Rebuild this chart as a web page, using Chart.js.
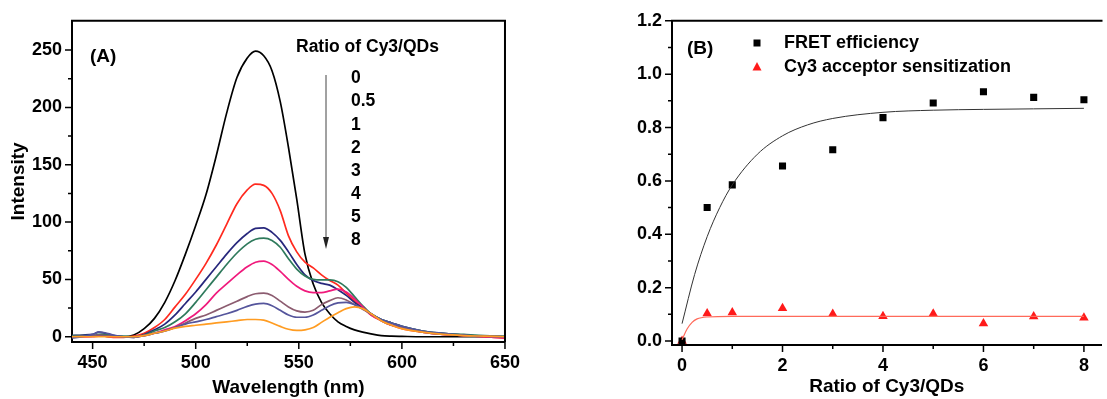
<!DOCTYPE html>
<html lang="en">
<head>
  <meta charset="UTF-8">
  <title>Cy3/QDs FRET</title>
  <script src="https://cdn.jsdelivr.net/npm/chart.js@4.4.1/dist/chart.umd.min.js"></script>
  <style>
    body { margin: 0; background: #fff; }
    canvas { position: absolute; top: 0; }
    #chartA { left: 0; }
    #chartB { left: 600px; }
  </style>
</head>
<body>
  <canvas id="chartA" width="530" height="399"></canvas>
  <canvas id="chartB" width="507" height="399"></canvas>

  <script>
  // ---- panel A: emission spectra ----
  var wavelengths = [440,445,450,453,456,460,465,470,475,480,485,490,495,500,505,510,515,520,525,529,533,537,541,545,549,553,557,561,565,569,573,577,581,585,590,595,600,610,620,630,640,650];
  var ratioLabels = ['0', '0.5', '1', '2', '3', '4', '5', '8'];
  var spec0  = [0.5,0.5,0.5,1,0.5,0,0,1.5,7,16,30,49,72,97,124,158,195,226,243,249,245,232,205,165,120,72,46,30,20,13,9,6,4,2.5,1,0.5,0.3,0,0,0,0,-0.5];
  var spec05 = [0,0,0.5,1,0.5,-0.5,-0.5,0.5,3,8,15,26,37,50,64,80,98,116,128,133,132,125,110,88,74,65,60,54,49,45,38,31,25,19,14,10,7,4,2,1,0,-1];
  var spec1  = [1,1.5,2,4,3,1,0,-0.5,2,6,11,19,29,39,50,61,72,82,90,94.5,95,91,84,74,63,54,49,46.5,45,41,36,30,25,20,15,12,9,5,3,1.5,0.5,0];
  var spec2  = [1,1,1,2,2,1,0.5,0,1.5,5,8,13,20,30,41,52,63,73,81,85,86,84,78,68,59,53,50,49.5,49.5,48,43,35,27,20,15,12,9,5,3,2,1,0.5];
  var spec3  = [0,0,0,0.5,0.5,0,0,0,1,3,6,9,14,20,28,38,46,54,61,65,66,63,57,50,44,40,38.5,38.5,40,41.5,39,33,26,19,14,10,8,4,2,1,0,-1];
  var spec4  = [0,0.5,1,1.5,1,0.5,0,0,1,3,5,8,12,16,19,23,27,31,35,37.5,38,36,31,26,22.5,21.5,23,28,31.5,34,32,28,24,20,14,10,8,4,2,1,0.5,0];
  var spec5  = [-1,0,2,4,3.5,1.5,0,-0.5,1,3,5,8,11,13,15,17.5,20,23,26.5,28.5,29,27,23,19,17,17,19,23,27,29.5,30,28,24.5,20,15,12,9,5,3,1.5,0.5,0];
  var spec8  = [0,0,0,0,0,0,0,0,1,3,5,7.5,9,10,11,12,13,14,15,15,14.5,12,9,6.5,5.5,6,8,12.5,17,21,24.5,26,24.5,20,14,10,7,4,2,1,0.5,0];
  var aXMajor = [450, 500, 550, 600, 650];
  var aXMinor = [475, 525, 575, 625];
  var aYMajor = [0, 50, 100, 150, 200, 250];
  var aYMinor = [25, 75, 125, 175, 225];

  // ---- panel B: FRET efficiency vs ratio ----
  var ratios   = [0, 0.5, 1, 2, 3, 4, 5, 6, 7, 8];
  var fretEff  = [0.0, 0.50, 0.585, 0.656, 0.717, 0.837, 0.892, 0.934, 0.913, 0.904];
  var cy3Sens  = [0.0, 0.103, 0.107, 0.123, 0.101, 0.093, 0.102, 0.066, 0.092, 0.087];
  var fretFitX = [0, 0.25, 0.5, 0.75, 1, 1.5, 2, 2.5, 3, 4, 5, 6, 7, 8];
  var fretFitY = [0.065, 0.249, 0.391, 0.50, 0.585, 0.70, 0.769, 0.81, 0.834, 0.857, 0.865, 0.868, 0.87, 0.872];
  var sensFitX = [0, 0.1, 0.2, 0.3, 0.5, 1, 2, 4, 6, 8];
  var sensFitY = [0.005, 0.045, 0.07, 0.083, 0.09, 0.092, 0.092, 0.092, 0.092, 0.092];
  var bXMajor = [0, 2, 4, 6, 8];
  var bXMinor = [1, 3, 5, 7];
  var bYMajor = [0, 0.2, 0.4, 0.6, 0.8, 1.0, 1.2];
  var bYMinor = [0.1, 0.3, 0.5, 0.7, 0.9, 1.1];

  var specColors = ['#000000', '#ff2a1f', '#27277c', '#2f7a5c', '#f01a7c', '#8c5c70', '#55559c', '#ff9c22'];
  var FONT = "'Liberation Sans', Arial, sans-serif";
  Chart.defaults.font.family = FONT;
  Chart.defaults.font.weight = 'bold';
  Chart.defaults.color = '#000';

  function pts(xs, ys) {
    return xs.map(function(x, i) { return {x: x, y: ys[i]}; });
  }

  // box edges, tick marks and free text
  var decor = {
    id: 'decor',
    afterDraw: function(chart, args, o) {
      var ctx = chart.ctx, a = chart.chartArea;
      var sx = chart.scales.x, sy = chart.scales.y;
      ctx.save();
      ctx.strokeStyle = '#000';
      ctx.lineWidth = 2;
      ctx.beginPath();
      ctx.moveTo(a.left - 1, a.top); ctx.lineTo(a.right + 1, a.top);
      if (o.right) { ctx.moveTo(a.right, a.top); ctx.lineTo(a.right, a.bottom); }
      ctx.stroke();

      ctx.lineWidth = 1.5;
      ctx.beginPath();
      o.xMajor.forEach(function(v) { var p = sx.getPixelForValue(v); ctx.moveTo(p, a.bottom); ctx.lineTo(p, a.bottom + 7); });
      o.xMinor.forEach(function(v) { var p = sx.getPixelForValue(v); ctx.moveTo(p, a.bottom); ctx.lineTo(p, a.bottom + 4); });
      o.yMajor.forEach(function(v) { var p = sy.getPixelForValue(v); ctx.moveTo(a.left, p); ctx.lineTo(a.left - 7, p); });
      o.yMinor.forEach(function(v) { var p = sy.getPixelForValue(v); ctx.moveTo(a.left, p); ctx.lineTo(a.left - 4, p); });
      ctx.stroke();

      ctx.fillStyle = '#000';
      ctx.textBaseline = 'middle';
      ctx.textAlign = 'left';
      (o.texts || []).forEach(function(t) {
        ctx.font = 'bold ' + t.size + 'px ' + FONT;
        ctx.fillText(t.text, t.x, t.y);
      });

      if (o.arrow) {
        var ar = o.arrow;
        ctx.strokeStyle = '#444';
        ctx.lineWidth = 1;
        ctx.beginPath();
        ctx.moveTo(ar.x, ar.y0); ctx.lineTo(ar.x, ar.y1 - 6);
        ctx.stroke();
        ctx.fillStyle = '#222';
        ctx.beginPath();
        ctx.moveTo(ar.x, ar.y1); ctx.lineTo(ar.x - 3, ar.y1 - 12); ctx.lineTo(ar.x + 3, ar.y1 - 12);
        ctx.closePath(); ctx.fill();
      }

      if (o.legend) {
        o.legend.forEach(function(l) {
          ctx.fillStyle = l.color;
          ctx.beginPath();
          if (l.shape === 'square') {
            ctx.rect(l.mx - 3.5, l.y - 3.5, 7, 7);
          } else {
            ctx.moveTo(l.mx, l.y - 5); ctx.lineTo(l.mx + 4.5, l.y + 3.5); ctx.lineTo(l.mx - 4.5, l.y + 3.5);
            ctx.closePath();
          }
          ctx.fill();
          ctx.fillStyle = '#000';
          ctx.font = 'bold 18px ' + FONT;
          ctx.fillText(l.text, l.tx, l.y);
        });
      }
      ctx.restore();
    }
  };

  function axis(min, max, majors, fixedSize, titleText, titlePad, fmt) {
    return {
      type: 'linear', min: min, max: max,
      afterBuildTicks: function(s) { s.ticks = majors.map(function(v) { return {value: v}; }); },
      afterFit: function(s) { if (s.isHorizontal()) s.height = fixedSize; else s.width = fixedSize; },
      grid: {display: false, drawTicks: false},
      border: {display: true, color: '#000', width: 2},
      ticks: {padding: 10, autoSkip: false, maxRotation: 0, color: '#000',
              font: {size: 18, weight: 'bold'},
              callback: function(v) { return fmt(v); }},
      title: {display: !!titleText, text: titleText, color: '#000',
              font: {size: 19, weight: 'bold'}, padding: titlePad}
    };
  }

  // ---- chart A ----
  var specs = [spec0, spec05, spec1, spec2, spec3, spec4, spec5, spec8];
  var aTexts = [
    {text: '(A)', x: 90, y: 57, size: 19},
    {text: 'Ratio of Cy3/QDs', x: 296, y: 47, size: 17.5}
  ];
  ratioLabels.forEach(function(r, i) {
    aTexts.push({text: r, x: 351, y: 78.5 + i * 23.1, size: 17.5});
  });

  new Chart(document.getElementById('chartA'), {
    type: 'scatter',
    data: {
      datasets: specs.map(function(s, i) {
        return {
          label: ratioLabels[i],
          data: pts(wavelengths, s),
          showLine: true,
          borderColor: specColors[i],
          borderWidth: 1.7,
          pointRadius: 0,
          tension: 0.4,
          cubicInterpolationMode: 'monotone'
        };
      }).reverse()
    },
    options: {
      responsive: false,
      animation: false,
      layout: {padding: {top: 18, right: 25, left: 0, bottom: 0}},
      plugins: {
        legend: {display: false},
        tooltip: {enabled: false},
        decor: {right: true, xMajor: aXMajor, xMinor: aXMinor, yMajor: aYMajor, yMinor: aYMinor,
                texts: aTexts, arrow: {x: 326, y0: 75, y1: 249}}
      },
      scales: {
        x: axis(440, 650, aXMajor, 57, 'Wavelength (nm)', {top: 0, bottom: 0}, function(v) { return String(v); }),
        y: axis(-4.6, 275.5, aYMajor, 72, 'Intensity', {top: 7, bottom: 0}, function(v) { return String(v); })
      }
    },
    plugins: [decor]
  });

  // ---- chart B ----
  new Chart(document.getElementById('chartB'), {
    type: 'scatter',
    data: {
      datasets: [
        {label: 'fit E', data: pts(fretFitX, fretFitY), showLine: true, borderColor: '#333', borderWidth: 1,
         pointRadius: 0, tension: 0.4, cubicInterpolationMode: 'monotone'},
        {label: 'fit S', data: pts(sensFitX, sensFitY), showLine: true, borderColor: '#ff6a5a', borderWidth: 1.2,
         pointRadius: 0, tension: 0.4, cubicInterpolationMode: 'monotone'},
        {label: 'FRET efficiency', data: pts(ratios, fretEff), pointStyle: 'rect', pointRadius: 5,
         backgroundColor: '#000', borderColor: '#000', borderWidth: 0},
        {label: 'Cy3 acceptor sensitization', data: pts(ratios, cy3Sens), pointStyle: 'triangle', pointRadius: 5.5,
         backgroundColor: '#ff1a1a', borderColor: '#ff1a1a', borderWidth: 0}
      ]
    },
    options: {
      responsive: false,
      animation: false,
      layout: {padding: {top: 20, right: 0, left: 0, bottom: 0}},
      plugins: {
        legend: {display: false},
        tooltip: {enabled: false},
        decor: {right: false, xMajor: bXMajor, xMinor: bXMinor, yMajor: bYMajor, yMinor: bYMinor,
                texts: [{text: '(B)', x: 87, y: 49, size: 19}],
                legend: [
                  {shape: 'square', color: '#000', mx: 157, tx: 184, y: 43, text: 'FRET efficiency'},
                  {shape: 'triangle', color: '#ff1a1a', mx: 157, tx: 184, y: 67, text: 'Cy3 acceptor sensitization'}
                ]}
      },
      scales: {
        x: axis(-0.2, 8.35, bXMajor, 54, 'Ratio of Cy3/QDs', {top: 0, bottom: 1}, function(v) { return String(v); }),
        y: axis(-0.015, 1.2, bYMajor, 72, '', {top: 0, bottom: 0}, function(v) { return v.toFixed(1); })
      }
    },
    plugins: [decor]
  });
  </script>
</body>
</html>
